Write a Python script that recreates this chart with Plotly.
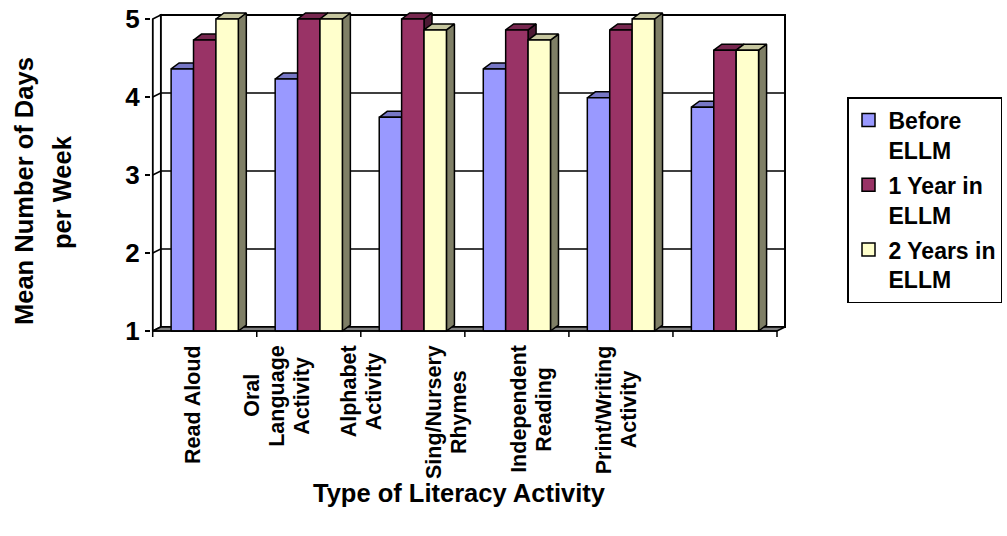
import plotly.graph_objects as go

# ---- data -------------------------------------------------------------
categories = [
    ["Read Aloud"],
    ["Oral", "Language", "Activity"],
    ["Alphabet", "Activity"],
    ["Sing/Nursery", "Rhymes"],
    ["Independent", "Reading"],
    ["Print/Writing", "Activity"],
]
series_names = ["Before<br>ELLM", "1 Year in<br>ELLM", "2 Years in<br>ELLM"]
before_ellm = [4.36, 4.23, 3.74, 4.36, 3.99, 3.87]
one_year_ellm = [4.73, 5.00, 5.00, 4.86, 4.86, 4.60]
two_years_ellm = [5.00, 5.00, 4.86, 4.73, 5.00, 4.60]
y_ticks = [1, 2, 3, 4, 5]

# ---- styling ------------------------------------------------------------
FONT = "Liberation Sans, Arial, sans-serif"
FRONT = ["#9999FF", "#993366", "#FFFFCC"]


def shade(hex_color, k):
    r, g, b = (int(hex_color[i:i + 2], 16) for i in (1, 3, 5))
    return "#%02x%02x%02x" % (int(r * k), int(g * k), int(b * k))


TOP = [shade(c, 0.78) for c in FRONT]
SIDE = [shade(c, 0.5) for c in FRONT]

# bold sans advance widths (per em) used to centre stacked label lines
BOLD_W = {" ": .278, "/": .278, "A": .722, "I": .278, "L": .611, "N": .722,
          "O": .778, "P": .667, "R": .722, "S": .667, "W": .944,
          "a": .556, "b": .611, "c": .556, "d": .611, "e": .556, "g": .611,
          "h": .611, "i": .278, "k": .556, "l": .278, "m": .889, "n": .611,
          "o": .611, "p": .611, "r": .389, "s": .556, "t": .333, "u": .611,
          "v": .556, "y": .556}


def text_len(s, size):
    return sum(BOLD_W.get(ch, .6) for ch in s) * size


W, H = 1007, 536
# pixel frame of the front face of the value axis
FX0, FX1 = 152.7, 777.0      # x = -0.5 .. 5.5
FY1, FY5 = 331.0, 19.0       # y = 1 .. 5
KX = (FX1 - FX0) / 6.0
KY = (FY1 - FY5) / 4.0
# plot area in pixels
L, R, T, B = 151, 792, 8, 342

x_min = -0.5 - (FX0 - L) / KX
x_max = 5.5 + (R - FX1) / KX
y_max = 5 + (FY5 - T) / KY
y_min = 1 - (B - FY1) / KY

# depth of walls and bars (oblique projection)
WDX, WDY = 8 / KX, 4 / KY
BDX, BDY = 8 / KX, 6 / KY
BAR_W = 22.4 / KX
TICK = 6 / KY

values = [before_ellm, one_year_ellm, two_years_ellm]
n_cat = len(categories)
y_lo, y_hi = y_ticks[0], y_ticks[-1]

fig = go.Figure()


def poly(xs, ys, fill, width=1.5):
    fig.add_trace(go.Scatter(
        x=xs, y=ys, mode="lines", fill="toself", fillcolor=fill,
        line=dict(color="black", width=width), hoverinfo="skip",
        showlegend=False))


def segs(xs, ys, width=1.5):
    fig.add_trace(go.Scatter(
        x=xs, y=ys, mode="lines", line=dict(color="black", width=width),
        hoverinfo="skip", showlegend=False, connectgaps=False))


xl, xr = -0.5, n_cat - 0.5
# back wall
poly([xl + WDX, xr + WDX, xr + WDX, xl + WDX, xl + WDX],
     [y_lo + WDY, y_lo + WDY, y_hi + WDY, y_hi + WDY, y_lo + WDY], "white", 2)
# side wall
poly([xl, xl, xl + WDX, xl + WDX, xl],
     [y_lo, y_hi, y_hi + WDY, y_lo + WDY, y_lo], "white", 1.5)
# gridlines on side and back walls
gx, gy = [], []
for v in y_ticks[1:-1]:
    gx += [xl, xl + WDX, xr + WDX, None]
    gy += [v, v + WDY, v + WDY, None]
segs(gx, gy, 1.5)
# floor
poly([xl, xr, xr + WDX, xl + WDX, xl],
     [y_lo, y_lo, y_lo + WDY, y_lo + WDY, y_lo], "#808080", 1.5)

# bars, drawn left to right so each front face covers its neighbour's side
for s, vals in enumerate(values):
    sx, sy, tx, ty, fx, fy = [], [], [], [], [], []
    for i, v in enumerate(vals):
        a = i - 1.5 * BAR_W + s * BAR_W
        b = a + BAR_W
        sx += [b, b, b + BDX, b + BDX, b, None]
        sy += [y_lo, v, v + BDY, y_lo + BDY, y_lo, None]
        tx += [a, a + BDX, b + BDX, b, a, None]
        ty += [v, v + BDY, v + BDY, v, v, None]
        fx += [a, b, b, a, a, None]
        fy += [y_lo, y_lo, v, v, y_lo, None]
    poly(sx, sy, SIDE[s])
    poly(tx, ty, TOP[s])
    poly(fx, fy, FRONT[s])

# front value axis line and category tick marks
ax, ay = [xl, xl, None], [y_hi, y_lo - TICK, None]
for k in range(1, n_cat + 1):
    ax += [k - 0.5, k - 0.5, None]
    ay += [y_lo, y_lo - TICK, None]
segs(ax, ay, 1.5)
segs([xl, xr], [y_lo, y_lo], 1.5)

# legend entries (one group each so the group gap spaces them out)
for s, name in enumerate(series_names):
    fig.add_trace(go.Scatter(
        x=[None], y=[None], mode="markers", name=name, legendgroup=f"g{s}",
        marker=dict(symbol="square", size=13, color=FRONT[s],
                    line=dict(color="black", width=1.5))))


def px_x(p):
    return (p - L) / (R - L)


def px_y(p):
    return (B - p) / (B - T)


annotations = []
# category labels, rotated, one annotation per line so the lines sit close
LABEL_SIZE = 21.5
LINE_PITCH = 25
LABEL_TOP = 345
LABEL_START, LABEL_PITCH = -0.12, 0.815
for i, lines in enumerate(categories):
    xc = FX0 + (LABEL_START + i * LABEL_PITCH + 0.5) * KX
    longest = max(text_len(t, LABEL_SIZE) for t in lines)
    yc = LABEL_TOP + longest / 2
    for j, t in enumerate(lines):
        annotations.append(dict(
            x=px_x(xc + (j - (len(lines) - 1) / 2) * LINE_PITCH), y=px_y(yc),
            xref="paper", yref="paper", text=t, textangle=-90,
            showarrow=False, xanchor="center", yanchor="middle",
            font=dict(family=FONT, size=LABEL_SIZE, color="black",
                      weight="bold")))
# axis titles
annotations.append(dict(
    x=px_x(459), y=px_y(493), xref="paper", yref="paper",
    text="Type of Literacy Activity", showarrow=False,
    xanchor="center", yanchor="middle",
    font=dict(family=FONT, size=25.5, color="black", weight="bold")))
annotations.append(dict(
    x=px_x(24), y=px_y(191), xref="paper", yref="paper",
    text="Mean Number of Days", textangle=-90, showarrow=False,
    xanchor="center", yanchor="middle",
    font=dict(family=FONT, size=25.5, color="black", weight="bold")))
annotations.append(dict(
    x=px_x(62), y=px_y(192), xref="paper", yref="paper",
    text="per Week", textangle=-90, showarrow=False,
    xanchor="center", yanchor="middle",
    font=dict(family=FONT, size=25.5, color="black", weight="bold")))

fig.update_layout(
    width=W, height=H,
    margin=dict(l=L, r=W - R, t=T, b=H - B, pad=0, autoexpand=False),
    paper_bgcolor="white", plot_bgcolor="white",
    xaxis=dict(range=[x_min, x_max], visible=False, fixedrange=True),
    yaxis=dict(range=[y_min, y_max], tickvals=y_ticks,
               ticktext=[str(t) for t in y_ticks],
               ticks="outside", ticklen=5, tickwidth=1.5, tickcolor="black",
               showgrid=False, zeroline=False, showline=False,
               tickfont=dict(family=FONT, size=26, color="black", weight="bold"),
               fixedrange=True),
    legend=dict(x=px_x(847), y=px_y(97), xanchor="left", yanchor="top",
                bordercolor="black", borderwidth=1.5, bgcolor="white",
                valign="top", tracegroupgap=2,
                font=dict(family=FONT, size=23, color="black", weight="bold")),
    annotations=annotations,
    showlegend=True,
)

fig.write_html("out.html")
